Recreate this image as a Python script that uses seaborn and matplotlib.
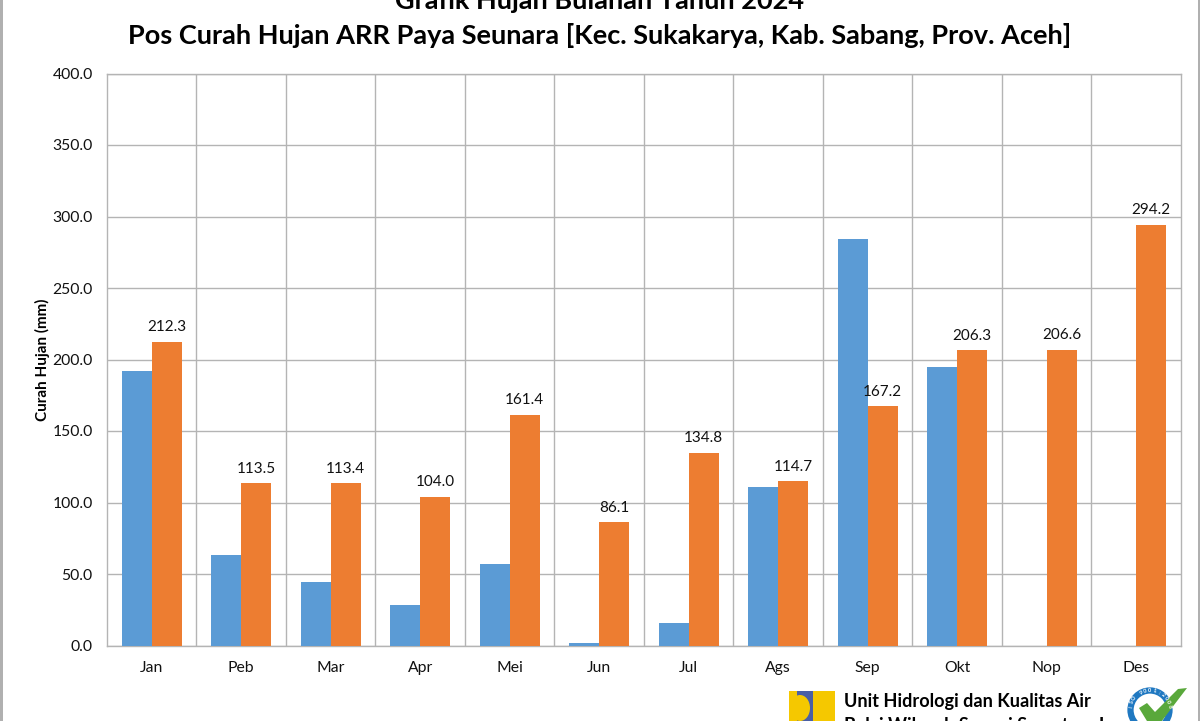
import matplotlib
matplotlib.use("Agg")
import matplotlib.pyplot as plt
import matplotlib.patches as mp
import numpy as np
import pandas as pd
import seaborn as sns

months = ["Jan", "Peb", "Mar", "Apr", "Mei", "Jun", "Jul", "Ags", "Sep", "Okt", "Nop", "Des"]
series_a = [192.0, 63.0, 44.5, 28.5, 57.0, 1.5, 16.0, 111.0, 284.0, 194.5, 0.0, 0.0]
series_b = [212.3, 113.5, 113.4, 104.0, 161.4, 86.1, 134.8, 114.7, 167.2, 206.3, 206.6, 294.2]
yticks = [0, 50, 100, 150, 200, 250, 300, 350, 400]
title1 = "Grafik Hujan Bulanan Tahun 2024"
title2 = "Pos Curah Hujan ARR Paya Seunara [Kec. Sukakarya, Kab. Sabang, Prov. Aceh]"
iso_text = "ISO 9001:2008"

sns.set_theme(style="white")
plt.rcParams["font.family"] = ["Lato", "DejaVu Sans"]

W, H = 1200, 721
fig = plt.figure(figsize=(W / 100, H / 100), dpi=100, facecolor="white")
ax = fig.add_axes([106.5 / W, 1 - 645.5 / H, (1180.5 - 106.5) / W, (645.5 - 73.5) / H])

df = pd.DataFrame({
    "Bulan": months * 2,
    "Curah": series_a + series_b,
    "Seri": ["a"] * 12 + ["b"] * 12,
})
sns.barplot(data=df, x="Bulan", y="Curah", hue="Seri", order=months,
            palette={"a": "#5B9BD5", "b": "#ED7D31"}, width=0.67, gap=0,
            saturation=1, legend=False, ax=ax, zorder=3, linewidth=0)

shift = 0.006
ax.set_xlim(-0.5 - shift, 11.5 - shift)
ax.set_ylim(0, 400)
ax.set_yticks(yticks)
ax.set_yticklabels([f"{v:.1f}" for v in yticks], fontsize=11.3, color="#111111")
ax.tick_params(axis="y", length=0, pad=10)
ax.tick_params(axis="x", length=0, pad=11, labelsize=11.3, labelcolor="#111111")
ax.set_xlabel("")
ax.set_ylabel("Curah Hujan (mm)", fontsize=11, fontweight="bold", color="black", labelpad=2)

ax.set_axisbelow(True)
ax.yaxis.grid(True, color="#B4B4B4", lw=1)
for k in range(1, 12):
    ax.axvline(k - 0.5 - shift, color="#B4B4B4", lw=1, zorder=1)
for s in ax.spines.values():
    s.set_color("#B4B4B4")
    s.set_linewidth(1)

bars_b = ax.containers[1]
ax.bar_label(bars_b, labels=[f"{v:.1f}" for v in series_b], padding=5.5,
             fontsize=11, color="#111111", zorder=5)

fig.text(600 / W, 1 - 1 / H, title1, ha="center", va="center", fontsize=19.5, fontweight="bold", color="black")
fig.text(600 / W, 1 - 36 / H, title2, ha="center", va="center", fontsize=19.5, fontweight="bold", color="black")

# outer frame of the picture
fig.add_artist(mp.Rectangle((0, 0), 2.5 / W, 1, transform=fig.transFigure, color="#B0B0B0", lw=0))
fig.add_artist(mp.Rectangle((1197.5 / W, 0), 2.5 / W, 1, transform=fig.transFigure, color="#B0B0B0", lw=0))

# footer logos and text
def box(x0, y0, x1, y1, c):
    fig.add_artist(mp.Rectangle((x0 / W, 1 - y1 / H), (x1 - x0) / W, (y1 - y0) / H,
                                transform=fig.transFigure, color=c, lw=0))
box(789, 691, 835, 721, "#F5C800")
box(797, 691, 813, 721, "#4A5FA5")
fig.add_artist(mp.Ellipse((800 / W, 1 - 708 / H), 20 / W, 26 / H, transform=fig.transFigure, color="#F5C800", lw=0))
box(789, 691, 797, 721, "#F5C800")

fig.text(844 / W, 1 - 701 / H, "Unit Hidrologi dan Kualitas Air", fontsize=13.1, fontweight="bold",
         ha="left", va="center", color="black")
fig.text(844 / W, 1 - 725 / H, "Balai Wilayah Sungai Sumatera I", fontsize=13.1, fontweight="bold",
         ha="left", va="center", color="black")

cx, cy = 1150, 710
fig.add_artist(mp.Ellipse((cx / W, 1 - cy / H), 39 / W, 39 / H, transform=fig.transFigure,
                          facecolor="white", edgecolor="#1F78C1", lw=4.5))
n = len(iso_text)
for i, ch in enumerate(iso_text):
    ang = np.deg2rad(170 - i * 160 / (n - 1))
    fig.text((cx + 19.5 * np.cos(ang)) / W, 1 - (cy - 19.5 * np.sin(ang)) / H, ch, fontsize=4, color="white",
             fontweight="bold", ha="center", va="center", rotation=np.rad2deg(ang) - 90)
fig.add_artist(mp.Polygon([(1139 / W, 1 - 708 / H), (1147 / W, 1 - 703 / H), (1155 / W, 1 - 712 / H),
                           (1178 / W, 1 - 689 / H), (1187 / W, 1 - 688 / H), (1158 / W, 1 - 726 / H),
                           (1150 / W, 1 - 726 / H)],
                          closed=True, transform=fig.transFigure, color="#59A83B", lw=0))

fig.savefig("out.png", dpi=100)
